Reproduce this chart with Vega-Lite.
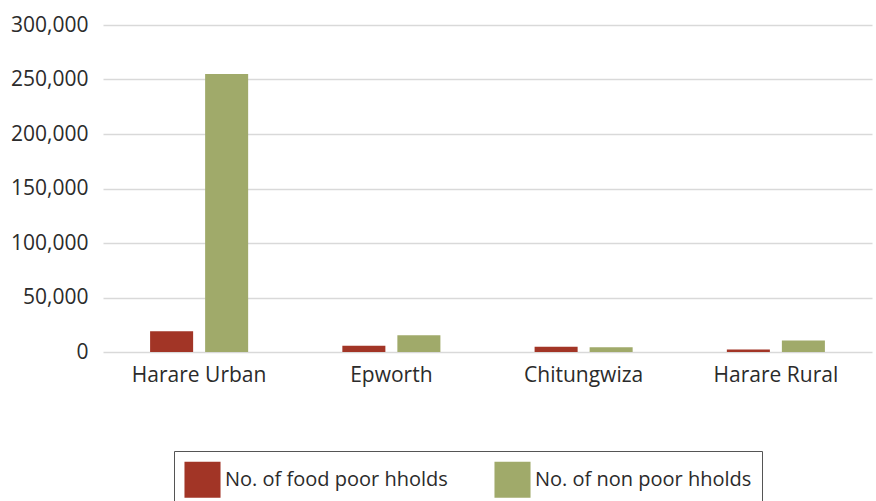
{
  "$schema": "https://vega.github.io/schema/vega-lite/v6.json",
  "width": 769,
  "height": 327,
  "autosize": {"type": "none"},
  "padding": {"left": 103, "top": 25, "right": 4, "bottom": 149},
  "background": "white",
  "config": {
    "view": {"stroke": null},
    "font": "Open Sans"
  },
  "data": {
    "values": [
      {"area": "Harare Urban", "series": "No. of food poor hholds", "value": 19000},
      {"area": "Harare Urban", "series": "No. of non poor hholds", "value": 255000},
      {"area": "Epworth", "series": "No. of food poor hholds", "value": 5700},
      {"area": "Epworth", "series": "No. of non poor hholds", "value": 15400},
      {"area": "Chitungwiza", "series": "No. of food poor hholds", "value": 4800},
      {"area": "Chitungwiza", "series": "No. of non poor hholds", "value": 4400},
      {"area": "Harare Rural", "series": "No. of food poor hholds", "value": 2300},
      {"area": "Harare Rural", "series": "No. of non poor hholds", "value": 10500}
    ]
  },
  "mark": {"type": "bar"},
  "encoding": {
    "x": {
      "field": "area",
      "type": "nominal",
      "sort": ["Harare Urban", "Epworth", "Chitungwiza", "Harare Rural"],
      "scale": {"paddingInner": 0.49, "paddingOuter": 0.245},
      "axis": {
        "title": null,
        "labelAngle": 0,
        "ticks": false,
        "domain": false,
        "labelFontSize": 21,
        "labelColor": "#2b2b2b",
        "labelPadding": 12,
        "labelFont": "Open Sans"
      }
    },
    "xOffset": {
      "field": "series",
      "type": "nominal",
      "scale": {"paddingInner": 0.218, "paddingOuter": 0}
    },
    "y": {
      "field": "value",
      "type": "quantitative",
      "scale": {"domain": [0, 300000], "nice": false},
      "axis": {
        "title": null,
        "values": [0, 50000, 100000, 150000, 200000, 250000, 300000],
        "format": ",d",
        "ticks": false,
        "domain": false,
        "grid": true,
        "gridColor": "#d9d9d9",
        "gridWidth": 1.3,
        "labelFontSize": 21,
        "labelColor": "#2b2b2b",
        "labelPadding": 15,
        "labelFont": "Open Sans"
      }
    },
    "color": {
      "field": "series",
      "type": "nominal",
      "scale": {
        "domain": ["No. of food poor hholds", "No. of non poor hholds"],
        "range": ["#A23526", "#A0AA6A"]
      },
      "legend": {
        "title": null,
        "orient": "none",
        "legendX": 71,
        "legendY": 426,
        "direction": "horizontal",
        "symbolType": "square",
        "symbolSize": 1300,
        "symbolStrokeWidth": 0,
        "labelFontSize": 20,
        "labelColor": "#2b2b2b",
        "labelFont": "Open Sans",
        "labelOffset": 4,
        "labelLimit": 400,
        "columnPadding": 46,
        "padding": 10,
        "strokeColor": "#555555"
      }
    }
  }
}
